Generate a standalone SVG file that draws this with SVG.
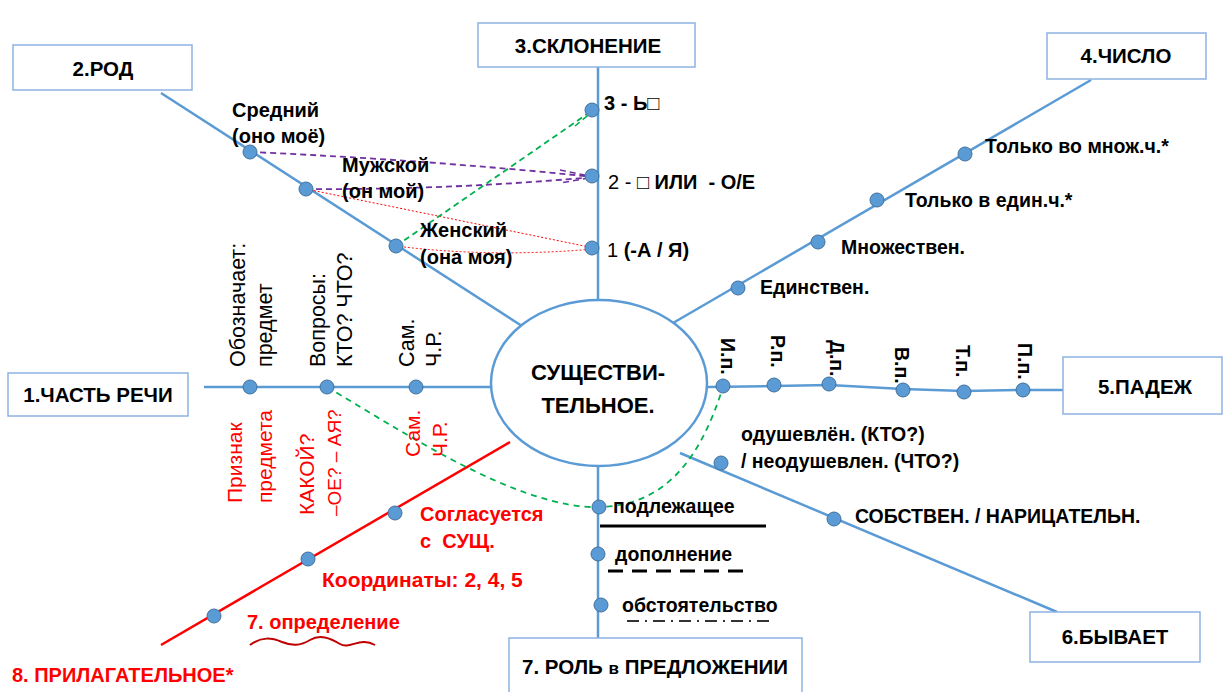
<svg xmlns="http://www.w3.org/2000/svg" width="1223" height="692" viewBox="0 0 1223 692">
<style>
.box{fill:#fff;stroke:#8DB3E2;stroke-width:1.5}
.bt{font-family:"Liberation Sans",Arial,sans-serif;font-weight:bold;font-size:20.5px;fill:#000;text-anchor:middle}
.ln{stroke:#5B9BD5;stroke-width:2.5;fill:none}
.dot{fill:#5B9BD5;stroke:#41719C;stroke-width:1}
.lb{font-family:"Liberation Sans",Arial,sans-serif;font-weight:bold;font-size:20px;fill:#000;white-space:pre}
.vt{font-family:"Liberation Sans",Arial,sans-serif;font-size:21.5px;fill:#000}
.rv{font-family:"Liberation Sans",Arial,sans-serif;font-size:21px;fill:#FF0000}
.rb{font-family:"Liberation Sans",Arial,sans-serif;font-weight:bold;font-size:20px;fill:#FF0000;white-space:pre}
.cs{font-family:"Liberation Sans",Arial,sans-serif;font-weight:bold;font-size:19.5px;fill:#000}
</style>

<g id="connectors">
  <line class="ln" x1="161" y1="93" x2="522" y2="326"/>
  <line class="ln" x1="598" y1="67" x2="598" y2="300"/>
  <line class="ln" x1="1091" y1="80" x2="673" y2="323"/>
  <line class="ln" x1="204" y1="387" x2="491" y2="387"/>
  <polyline class="ln" points="707,387 774,386 829,385 903,389 964,391 1023,390 1063,390"/>
  <line class="ln" x1="680" y1="453" x2="1057" y2="612"/>
  <line class="ln" x1="598" y1="466" x2="598" y2="655"/>
  <line x1="161" y1="645" x2="510" y2="442" stroke="#FF0000" stroke-width="2.5"/>
  <path d="M250,152 Q430,160 594,177" fill="none" stroke="#7030A0" stroke-width="1.8" stroke-dasharray="6 4"/>
  <path d="M306,189 Q450,190 594,177" fill="none" stroke="#7030A0" stroke-width="1.8" stroke-dasharray="6 4"/>
  <path d="M560,170 L594,177 L560,183" fill="none" stroke="#7030A0" stroke-width="1.5" stroke-dasharray="6 4"/>
  <path d="M306,189 L594,248" fill="none" stroke="#FF0000" stroke-width="1" stroke-dasharray="2 2"/>
  <path d="M396,246 Q490,258 594,249" fill="none" stroke="#FF0000" stroke-width="1" stroke-dasharray="2 2"/>
  <line x1="396" y1="246" x2="593" y2="110" stroke="#00B050" stroke-width="1.8" stroke-dasharray="6 4"/>
  <line x1="575" y1="126" x2="592" y2="112" stroke="#00B050" stroke-width="1.5" stroke-dasharray="6 4"/>
  <path d="M327,387 C400,430 520,510 600,507 C665,505 700,460 723,387" fill="none" stroke="#00B050" stroke-width="1.8" stroke-dasharray="6 5"/>
  <line x1="600" y1="526" x2="766" y2="526" stroke="#000" stroke-width="3"/>
  <line x1="608" y1="571" x2="750" y2="571" stroke="#000" stroke-width="3" stroke-dasharray="15 9"/>
  <line x1="627" y1="621" x2="770" y2="621" stroke="#333" stroke-width="2" stroke-dasharray="12 6 2 6"/>
  <path d="M250,645 C262,636 272,638 282,642 C292,646 300,646 310,640 C320,634 330,638 340,644 C350,650 360,636 375,645" fill="none" stroke="#C00000" stroke-width="2"/>
</g>

<g id="center">
  <ellipse cx="599" cy="383" rx="108" ry="83" fill="#fff" stroke="#5B9BD5" stroke-width="2.5"/>
  <text class="bt" x="598" y="380" style="font-size:22px">СУЩЕСТВИ-</text>
  <text class="bt" x="598" y="413" style="font-size:22px">ТЕЛЬНОЕ.</text>
</g>

<g id="n1">
  <rect class="box" x="8" y="373" width="180" height="43"/>
  <text class="bt" x="98" y="402">1.ЧАСТЬ РЕЧИ</text>
  <circle class="dot" cx="250" cy="387" r="7"/>
  <circle class="dot" cx="327" cy="387" r="7"/>
  <circle class="dot" cx="416" cy="387" r="7"/>
  <text class="vt" transform="translate(245,367) rotate(-90)">Обозначает:</text>
  <text class="vt" transform="translate(272,367) rotate(-90)">предмет</text>
  <text class="vt" transform="translate(325,367) rotate(-90)">Вопросы:</text>
  <text class="vt" transform="translate(352,367) rotate(-90)">КТО? ЧТО?</text>
  <text class="vt" transform="translate(414,367) rotate(-90)">Сам.</text>
  <text class="vt" transform="translate(441,367) rotate(-90)">Ч.Р.</text>
  <text class="rv" transform="translate(242,503) rotate(-90)">Признак</text>
  <text class="rv" transform="translate(272,503) rotate(-90)">предмета</text>
  <text class="rv" transform="translate(314,515) rotate(-90)">КАКОЙ?</text>
  <text class="rv" transform="translate(341,516) rotate(-90)" style="font-size:19px">–ОЕ? – АЯ?</text>
  <text class="rv" transform="translate(420,457) rotate(-90)">Сам.</text>
  <text class="rv" transform="translate(447,457) rotate(-90)">Ч.Р.</text>
</g>

<g id="n2">
  <rect class="box" x="13" y="45" width="179" height="45"/>
  <text class="bt" x="103" y="76">2.РОД</text>
  <circle class="dot" cx="250" cy="152" r="7"/>
  <circle class="dot" cx="306" cy="189" r="7"/>
  <circle class="dot" cx="396" cy="246" r="7"/>
  <text class="lb" x="232" y="117">Средний</text>
  <text class="lb" x="232" y="143">(оно моё)</text>
  <text class="lb" x="342" y="172">Мужской</text>
  <text class="lb" x="342" y="198">(он мой)</text>
  <text class="lb" x="420" y="237">Женский</text>
  <text class="lb" x="420" y="264">(она моя)</text>
</g>

<g id="n3">
  <rect class="box" x="478" y="23" width="217" height="44"/>
  <text class="bt" x="588" y="53">3.СКЛОНЕНИЕ</text>
  <circle class="dot" cx="592" cy="110" r="7"/>
  <circle class="dot" cx="592" cy="176" r="7"/>
  <circle class="dot" cx="592" cy="248" r="7"/>
  <text class="lb" x="604" y="110">3 - Ь□</text>
  <text class="lb" x="608" y="189"><tspan font-weight="normal">2 - </tspan>□ ИЛИ  - О/Е</text>
  <text class="lb" x="607" y="257"><tspan font-weight="normal">1 </tspan>(-А / Я)</text>
</g>

<g id="n4">
  <rect class="box" x="1047" y="33" width="159" height="46"/>
  <text class="bt" x="1126" y="63">4.ЧИСЛО</text>
  <circle class="dot" cx="738" cy="288" r="7"/>
  <circle class="dot" cx="818" cy="242" r="7"/>
  <circle class="dot" cx="877" cy="200" r="7"/>
  <circle class="dot" cx="965" cy="154" r="7"/>
  <text class="cs" x="760" y="294">Единствен.</text>
  <text class="cs" x="841" y="254">Множествен.</text>
  <text class="cs" x="905" y="207">Только в един.ч.*</text>
  <text class="cs" x="985" y="153">Только во множ.ч.*</text>
</g>

<g id="n5">
  <rect class="box" x="1063" y="357" width="159" height="57"/>
  <text class="bt" x="1145" y="394">5.ПАДЕЖ</text>
  <circle class="dot" cx="723" cy="386" r="7"/>
  <circle class="dot" cx="774" cy="385" r="7"/>
  <circle class="dot" cx="829" cy="384" r="7"/>
  <circle class="dot" cx="903" cy="390" r="7"/>
  <circle class="dot" cx="964" cy="392" r="7"/>
  <circle class="dot" cx="1023" cy="390" r="7"/>
  <text class="cs" transform="translate(721,338) rotate(90)">И.п.</text>
  <text class="cs" transform="translate(771,335) rotate(90)">Р.п.</text>
  <text class="cs" transform="translate(830,340) rotate(90)">Д.п.</text>
  <text class="cs" transform="translate(895,347) rotate(90)">В.п.</text>
  <text class="cs" transform="translate(956,345) rotate(90)">Т.п.</text>
  <text class="cs" transform="translate(1018,343) rotate(90)">П.п.</text>
</g>

<g id="n6">
  <rect class="box" x="1030" y="612" width="170" height="50"/>
  <text class="bt" x="1115" y="644">6.БЫВАЕТ</text>
  <circle class="dot" cx="721" cy="463" r="7"/>
  <circle class="dot" cx="834" cy="519" r="7"/>
  <text class="cs" x="741" y="441">одушевлён. (КТО?)</text>
  <text class="cs" x="741" y="468">/ неодушевлен. (ЧТО?)</text>
  <text class="cs" x="855" y="523">СОБСТВЕН. / НАРИЦАТЕЛЬН.</text>
</g>

<g id="n7">
  <rect class="box" x="509" y="638" width="293" height="60"/>
  <text class="bt" x="655" y="674">7. РОЛЬ <tspan style="font-size:17px">в</tspan> ПРЕДЛОЖЕНИИ</text>
  <circle class="dot" cx="599" cy="507" r="7"/>
  <circle class="dot" cx="598" cy="554" r="7"/>
  <circle class="dot" cx="601" cy="605" r="7"/>
  <text class="cs" x="613" y="513">подлежащее</text>
  <text class="cs" x="615" y="561">дополнение</text>
  <text class="cs" x="622" y="612">обстоятельство</text>
</g>

<g id="n8">
  <circle class="dot" cx="395" cy="513" r="7"/>
  <circle class="dot" cx="308" cy="559" r="7"/>
  <circle class="dot" cx="214" cy="616" r="7"/>
  <text class="rb" x="420" y="521">Согласуется</text>
  <text class="rb" x="420" y="548">с  СУЩ.</text>
  <text class="rb" x="322" y="587" style="font-size:21px">Координаты: 2, 4, 5</text>
  <text class="rb" x="247" y="629">7. определение</text>
  <text class="rb" x="12" y="682">8. ПРИЛАГАТЕЛЬНОЕ*</text>
</g>
</svg>
